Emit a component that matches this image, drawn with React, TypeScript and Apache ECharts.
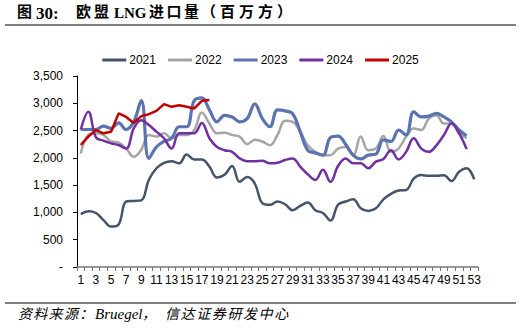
import React, { useEffect, useRef } from "react";
import * as echarts from "echarts";

const weeks: string[] = Array.from({ length: 53 }, (_, i) => String(i + 1));

const s2021 = [970, 1020, 990, 860, 740, 780, 1200, 1210, 1220, 1600, 1810, 1910, 1940, 1900, 2060, 1970, 1970, 1840, 1640, 1690, 1850, 1560, 1650, 1530, 1170, 1140, 1200, 1150, 1040, 1120, 1180, 1040, 990, 850, 1140, 1200, 1240, 1075, 1025, 1075, 1240, 1340, 1400, 1410, 1620, 1685, 1670, 1670, 1680, 1575, 1745, 1810, 1605];
const s2022 = [2080, 2420, 2450, 2420, 2300, 2280, 2170, 2020, 2150, 2420, 2390, 2450, 2360, 2420, 2420, 2510, 2830, 2630, 2450, 2460, 2420, 2390, 2250, 2330, 2300, 2230, 2420, 2680, 2660, 2480, 2230, 2110, 2050, 2050, 2170, 2200, 2050, 2390, 2140, 2170, 2400, 2110, 2170, 2390, 2540, 2510, 2720, 2780, 2630, 2630, 2450, 2360];
const s2023 = [2520, 2520, 2520, 2580, 2540, 2640, 2520, 2660, 3050, 1990, 2200, 2300, 2360, 2570, 2570, 3050, 3100, 2880, 2660, 2780, 2750, 2660, 2720, 2990, 2720, 2570, 2880, 2860, 2810, 2480, 2140, 2090, 2050, 2375, 2400, 2250, 2050, 1980, 2050, 2070, 2330, 2300, 2510, 2420, 2845, 2750, 2765, 2815, 2750, 2660, 2510, 2405];
const s2024 = [2520, 2845, 2375, 2315, 2265, 2235, 2170, 2540, 2690, 2600, 2480, 2360, 2170, 2450, 2450, 2450, 2640, 2360, 2200, 2140, 2110, 1990, 1940, 1940, 1945, 1900, 1910, 1960, 1990, 1840, 1700, 1595, 1780, 1560, 1850, 1990, 1900, 1900, 1810, 1930, 1980, 2140, 1970, 2110, 2360, 2170, 2110, 2230, 2420, 2630, 2450, 2160];
const s2025 = [2235, 2390, 2510, 2450, 2480, 2815, 2750, 2640, 2765, 2800, 2860, 2985, 2935, 2965, 2935, 2905, 3045, 3060];

const seriesNames = ["2021", "2022", "2023", "2024", "2025"];
const seriesColors = ["#44546A", "#A5A5A5", "#5B73AE", "#7030A0", "#C00000"];

const SERIF = "Liberation Serif, Noto Sans CJK SC, serif";

function piece(text: string, x: number, y: number, size: number, bold: boolean, italic: boolean) {
  return {
    type: "text",
    x,
    y,
    style: {
      text,
      fontSize: size,
      fontWeight: bold ? "bold" : "normal",
      fontStyle: italic ? "italic" : "normal",
      fill: "#000",
      fontFamily: SERIF,
      align: "left",
      verticalAlign: "middle",
    },
  };
}

function spaced(text: string, x0: number, step: number, y: number, size: number, bold: boolean, italic: boolean) {
  return Array.from(text).map((ch, i) => piece(ch, x0 + i * step, y, size, bold, italic));
}

export default function App() {
  const ref = useRef<HTMLDivElement>(null);
  useEffect(() => {
    if (!ref.current) return;
    const chart = echarts.init(ref.current, null, { renderer: "svg" });
    const data = [s2021, s2022, s2023, s2024, s2025];
    const widths = [2.5, 2.5, 3.2, 2.5, 2.5];
    const titleY = 12;
    const footY = 314;
    chart.setOption({
      animation: false,
      backgroundColor: "#fff",
      color: seriesColors,
      textStyle: { fontFamily: "Liberation Sans, Arial, sans-serif" },
      grid: { left: 77, right: 43, top: 76, bottom: 62, containLabel: false },
      legend: {
        data: seriesNames.map((n) => ({ name: n, icon: "rect" })),
        left: "center",
        top: 49,
        itemWidth: 24,
        itemHeight: 3,
        itemGap: 12,
        textStyle: { color: "#000", fontSize: 12, padding: [0, 0, 0, -2] },
      },
      xAxis: {
        type: "category",
        data: weeks,
        boundaryGap: true,
        axisLine: { lineStyle: { color: "#777", width: 1.5 } },
        axisTick: { show: true, alignWithLabel: false, interval: 0, length: 4, lineStyle: { color: "#777" } },
        axisLabel: { interval: 1, color: "#000", fontSize: 12, margin: 7 },
        splitLine: { show: false },
      },
      yAxis: {
        type: "value",
        min: 0,
        max: 3500,
        interval: 500,
        axisLine: { show: true, lineStyle: { color: "#000", width: 1 } },
        axisTick: { show: true, length: 4, lineStyle: { color: "#000" } },
        axisLabel: {
          color: "#000",
          fontSize: 12,
          margin: 14,
          formatter: (v: number) => (v === 0 ? "-" : v.toLocaleString("en-US")),
        },
        splitLine: { show: false },
      },
      series: data.map((d, i) => ({
        name: seriesNames[i],
        type: "line",
        data: d,
        smooth: i === 4 ? false : 0.4,
        symbol: "none",
        lineStyle: { width: widths[i], color: seriesColors[i] },
        itemStyle: { color: seriesColors[i] },
      })),
      graphic: [
        piece("图", 17, titleY, 15, true, false),
        piece("30:", 36, titleY + 1, 17, true, false),
        ...spaced("欧盟", 76, 18, titleY, 15, true, false),
        piece("LNG", 114, titleY + 1, 15, true, false),
        ...spaced("进口量", 149, 17.5, titleY, 15, true, false),
        ...spaced("（百万方）", 201, 19, titleY, 15, true, false),
        {
          type: "line",
          shape: { x1: 5, y1: 25, x2: 516, y2: 25 },
          style: { stroke: "#000", lineWidth: 1.2 },
        },
        {
          type: "line",
          shape: { x1: 5, y1: 303, x2: 516, y2: 303 },
          style: { stroke: "#000", lineWidth: 1.2 },
        },
        ...spaced("资料来源：", 18, 15.3, footY, 14, false, true),
        piece("Bruegel", 95, footY, 15, false, true),
        piece("，", 142, footY, 14, false, true),
        ...spaced("信达证券研发中心", 165, 15.6, footY, 14, false, true),
      ],
    });
    return () => chart.dispose();
  }, []);
  return <div ref={ref} style={{ width: 521, height: 329, position: "absolute", left: 0, top: 0 }} />;
}
